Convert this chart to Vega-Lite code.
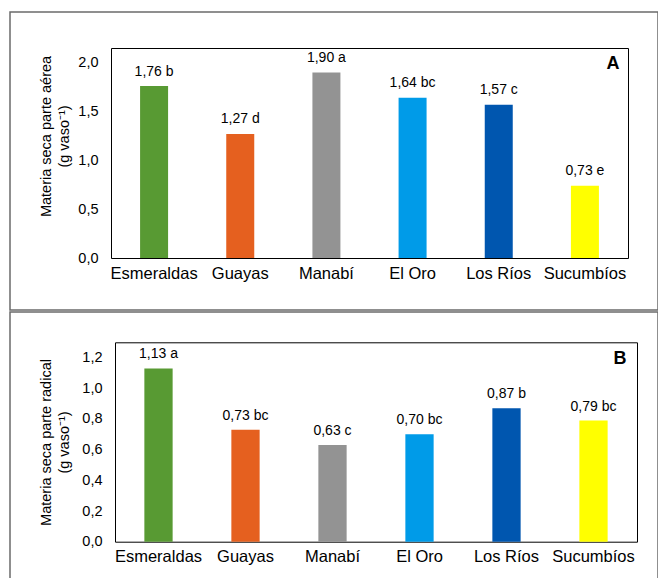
{
  "$schema": "https://vega.github.io/schema/vega-lite/v6.json",
  "padding": {"left": 9, "top": 11, "right": 0, "bottom": 0},
  "autosize": {"type": "pad"},
  "spacing": 0,
  "background": "white",
  "config": {
    "view": {"stroke": "#6b6b6b", "strokeWidth": 1.5},
    "font": "Liberation Sans",
    "axis": {
      "grid": false,
      "ticks": false,
      "tickSize": 0,
      "domainColor": "black",
      "domainWidth": 1,
      "labelColor": "black",
      "titleColor": "black",
      "labelFont": "Liberation Sans",
      "titleFont": "Liberation Sans",
      "titleFontWeight": "normal"
    }
  },
  "datasets": {
    "A": [
      {"site": "Esmeraldas", "value": 1.76, "label": "1,76 b"},
      {"site": "Guayas", "value": 1.27, "label": "1,27 d"},
      {"site": "Manabí", "value": 1.90, "label": "1,90 a"},
      {"site": "El Oro", "value": 1.64, "label": "1,64 bc"},
      {"site": "Los Ríos", "value": 1.57, "label": "1,57 c"},
      {"site": "Sucumbíos", "value": 0.74, "label": "0,73 e"}
    ],
    "B": [
      {"site": "Esmeraldas", "value": 1.13, "label": "1,13 a"},
      {"site": "Guayas", "value": 0.73, "label": "0,73 bc"},
      {"site": "Manabí", "value": 0.63, "label": "0,63 c"},
      {"site": "El Oro", "value": 0.70, "label": "0,70 bc"},
      {"site": "Los Ríos", "value": 0.87, "label": "0,87 b"},
      {"site": "Sucumbíos", "value": 0.79, "label": "0,79 bc"}
    ],
    "letterA": [{"letter": "A", "site": "Sucumbíos", "value": 2.0}],
    "letterB": [{"letter": "B", "site": "Sucumbíos", "value": 1.2}]
  },
  "vconcat": [
    {
      "width": 648,
      "height": 298,
      "layer": [
        {
          "data": {"name": "A"},
          "mark": {"type": "bar"},
          "encoding": {
            "x": {
              "field": "site", "type": "nominal", "sort": null,
              "scale": {"range": [101, 618], "paddingInner": 0.675, "paddingOuter": 0.3375},
              "axis": {"orient": "bottom", "offset": -52, "title": null, "labelAngle": 0, "labelFontSize": 16.5, "labelPadding": 7}
            },
            "y": {
              "field": "value", "type": "quantitative",
              "scale": {"domain": [0, 2.15], "range": [246, 36], "nice": false},
              "axis": {
                "orient": "left", "offset": -101, "values": [0, 0.5, 1, 1.5, 2],
                "labelExpr": "replace(format(datum.value, '.1f'), '.', ',')",
                "labelFontSize": 14.5, "labelPadding": 13,
                "title": ["Materia seca parte aérea", "(g vaso⁻¹)"],
                "titleFontSize": 14.5, "titleLineHeight": 18, "titleX": -58, "titleY": 124
              }
            },
            "color": {
              "field": "site", "type": "nominal",
              "scale": {
                "domain": ["Esmeraldas", "Guayas", "Manabí", "El Oro", "Los Ríos", "Sucumbíos"],
                "range": ["#589a33", "#e5601f", "#939393", "#009be8", "#0056af", "#ffff00"]
              },
              "legend": null
            }
          }
        },
        {
          "data": {"name": "A"},
          "mark": {"type": "text", "baseline": "alphabetic", "dy": -10.5, "fontSize": 14, "color": "black"},
          "encoding": {
            "x": {"field": "site", "type": "nominal", "sort": null, "axis": null},
            "y": {"field": "value", "type": "quantitative", "axis": null},
            "text": {"field": "label"}
          }
        },
        {
          "data": {"name": "letterA"},
          "mark": {"type": "text", "baseline": "middle", "dx": 28, "dy": 1.5, "fontSize": 18, "fontWeight": "bold", "color": "black"},
          "encoding": {
            "x": {"field": "site", "type": "nominal", "sort": null, "axis": {"orient": "top", "offset": -36, "labels": false, "title": null}},
            "y": {"field": "value", "type": "quantitative", "axis": {"orient": "right", "offset": -30, "labels": false, "title": null}},
            "text": {"field": "letter"}
          }
        }
      ]
    },
    {
      "width": 648,
      "height": 268,
      "layer": [
        {
          "data": {"name": "B"},
          "mark": {"type": "bar"},
          "encoding": {
            "x": {
              "field": "site", "type": "nominal", "sort": null,
              "scale": {"range": [105, 627], "paddingInner": 0.675, "paddingOuter": 0.3375},
              "axis": {"orient": "bottom", "offset": -38.3, "title": null, "labelAngle": 0, "labelFontSize": 16.5, "labelPadding": 7}
            },
            "y": {
              "field": "value", "type": "quantitative",
              "scale": {"domain": [0, 1.3], "range": [229.7, 30.3], "nice": false},
              "axis": {
                "orient": "left", "offset": -105, "values": [0, 0.2, 0.4, 0.6, 0.8, 1, 1.2],
                "labelExpr": "replace(format(datum.value, '.1f'), '.', ',')",
                "labelFontSize": 14.5, "labelPadding": 13,
                "title": ["Materia seca parte radical", "(g vaso⁻¹)"],
                "titleFontSize": 14.5, "titleLineHeight": 18, "titleX": -62
              }
            },
            "color": {
              "field": "site", "type": "nominal",
              "scale": {
                "domain": ["Esmeraldas", "Guayas", "Manabí", "El Oro", "Los Ríos", "Sucumbíos"],
                "range": ["#589a33", "#e5601f", "#939393", "#009be8", "#0056af", "#ffff00"]
              },
              "legend": null
            }
          }
        },
        {
          "data": {"name": "B"},
          "mark": {"type": "text", "baseline": "alphabetic", "dy": -10, "fontSize": 14, "color": "black"},
          "encoding": {
            "x": {"field": "site", "type": "nominal", "sort": null, "axis": null},
            "y": {"field": "value", "type": "quantitative", "axis": null},
            "text": {"field": "label"}
          }
        },
        {
          "data": {"name": "letterB"},
          "mark": {"type": "text", "baseline": "middle", "dx": 26.5, "dy": 1.5, "fontSize": 18, "fontWeight": "bold", "color": "black"},
          "encoding": {
            "x": {"field": "site", "type": "nominal", "sort": null, "axis": {"orient": "top", "offset": -30.3, "labels": false, "title": null}},
            "y": {"field": "value", "type": "quantitative", "axis": {"orient": "right", "offset": -21, "labels": false, "title": null}},
            "text": {"field": "letter"}
          }
        }
      ]
    }
  ]
}
